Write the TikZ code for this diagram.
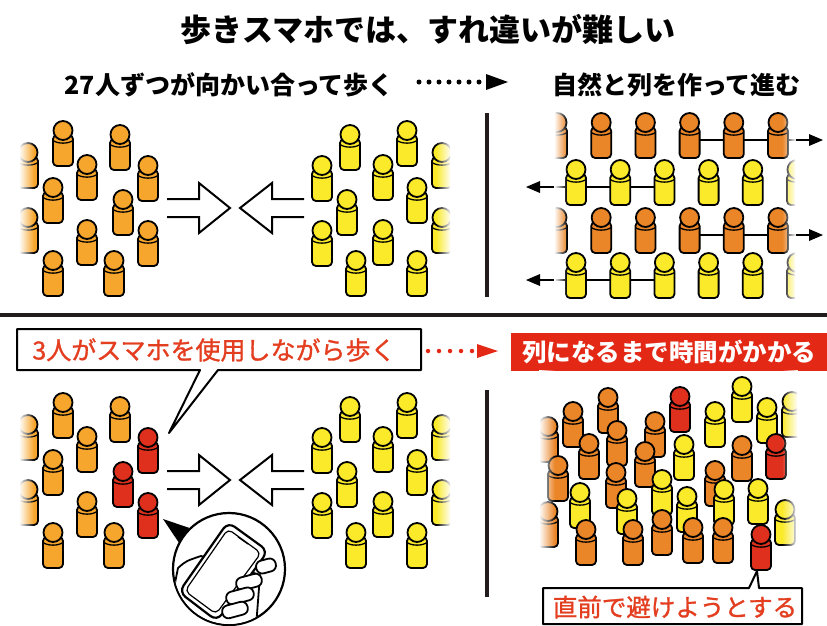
\documentclass[tikz,border=0pt]{standalone}
\usepackage{fontspec}
\newfontfamily\jpfont{Noto Sans CJK JP}
\newfontfamily\jpmed{Noto Sans CJK JP}[FakeBold=1.2]
\usetikzlibrary{arrows.meta, calc, fadings}

\definecolor{pawnorL}{RGB}{246,166,44}
\definecolor{pawnor}{RGB}{234,133,40}
\definecolor{pawnye}{RGB}{250,234,42}
\definecolor{pawnrd}{RGB}{222,48,28}
\definecolor{alertred}{RGB}{228,40,22}
\definecolor{notered}{RGB}{228,62,32}
\definecolor{rulecol}{RGB}{35,28,28}

\begin{document}
\begin{tikzpicture}[
    x=1pt, y=-1pt,
    line join=round,
    pics/pawn/.style={code={
      \draw[line width=1.8pt, fill=#1, rounded corners=4pt] (-10,14) rectangle (10,45);
      \draw[line width=1.3pt] (-10,19.5) .. controls (-5,23) and (5,23) .. (10,19.5);
      \draw[line width=1.8pt, fill=#1] (0,9.5) circle (9.5);
    }},
    title/.style={font=\jpfont\bfseries\fontsize{31}{31}\selectfont, inner sep=0pt},
    head/.style={font=\jpfont\bfseries\fontsize{25}{25}\selectfont, inner sep=0pt},
    note/.style={font=\jpmed\fontsize{#1}{#1}\selectfont, text=notered, inner sep=0pt},
    hollow/.style={line width=2pt, line join=miter, fill=white},
    rowarrow/.style={line width=1.8pt, -{Triangle[length=14pt, width=12pt, line width=0pt]}},
    dotline/.style={line width=5pt, line cap=round, dash pattern=on 0pt off 10pt},
    divider/.style={line width=4.5pt, draw=rulecol},
    tagbox/.style={line width=2pt, draw=black, fill=white}
  ]
  \useasboundingbox (0,0) rectangle (827,625);

  \node[title] (title) at (428,30) {歩きスマホでは、すれ違いが難しい};
  \node[head, anchor=east] (meet) at (394,85) {27人ずつが向かい合って歩く};
  \node[head, anchor=west] (lanes) at (552,85) {自然と列を作って進む};
  \coordinate (go1) at (419,82);
  \coordinate (go1end) at (508,82);
  \draw[dotline, -{Triangle[length=22pt, width=16pt, line width=0pt]}] (go1) -- (go1end);

  \draw[divider] (0,315) -- (827,315);
  \draw[divider] (487,113) -- (487,297);
  \draw[divider] (487,390) -- (487,597);

  \foreach \dy in {0,272} {
    \begin{scope}
      \clip (20,105+\dy) rectangle (450,305+\dy);
      \foreach \x/\y/\phone in {63/121/0, 120/125/0, 28/143/0, 87/155/0, 148/156/1,
                                53/178/0, 123/190/1, 28/208/0, 87/220/0, 148/221/1,
                                53/251/0, 114/251/0} {
        \colorlet{walker}{pawnorL}
        \ifnum\dy>0 \ifnum\phone=1 \colorlet{walker}{pawnrd}\fi\fi
        \pic at (\x,\y+\dy) {pawn=walker};
        \pic at (470-\x,\y+\dy) {pawn=pawnye};
      }
    \end{scope}
    \fill[white, path fading=east] (19,105+\dy) rectangle (34,305+\dy);
    \fill[white, path fading=west] (436,105+\dy) rectangle (451,305+\dy);
    \draw[hollow] (167,199+\dy) -- (199,199+\dy) -- (199,183+\dy) -- (230,208+\dy)
      -- (199,233+\dy) -- (199,217+\dy) -- (167,217+\dy);
    \draw[hollow] (304,199+\dy) -- (272,199+\dy) -- (272,183+\dy) -- (240,208+\dy)
      -- (272,233+\dy) -- (272,217+\dy) -- (304,217+\dy);
  }

  \coordinate (laneA) at (690,140);  \coordinate (laneAend) at (823,140);
  \coordinate (laneB) at (664,187);  \coordinate (laneBend) at (526,187);
  \coordinate (laneC) at (690,235);  \coordinate (laneCend) at (823,235);
  \coordinate (laneD) at (664,280);  \coordinate (laneDend) at (526,280);
  \draw[rowarrow] (laneA) -- (laneAend);
  \draw[rowarrow] (laneB) -- (laneBend);
  \draw[rowarrow] (laneC) -- (laneCend);
  \draw[rowarrow] (laneD) -- (laneDend);
  \begin{scope}
    \clip (555,105) rectangle (795,305);
    \foreach \y in {113,208}
      \foreach \i in {0,...,5}
        \pic at (557+44.2*\i,\y) {pawn=pawnor};
    \foreach \y in {160,253}
      \foreach \i in {0,...,5}
        \pic at (576+44.2*\i,\y) {pawn=pawnye};
  \end{scope}
  \fill[white, path fading=east] (554,105) rectangle (567,305);
  \fill[white, path fading=west] (782,105) rectangle (796,305);

  \coordinate (warnTip) at (169,433);
  \draw[tagbox] (17,329) -- (421,329) -- (421,370) -- (218,370) -- (warnTip)
    -- (200,370) -- (17,370) -- cycle;
  \node[note=25] (warn) at (214,350) {3人がスマホを使用しながら歩く};
  \coordinate (go2) at (428,351);
  \coordinate (go2end) at (498,351);
  \draw[dotline, alertred, line width=4.5pt, dash pattern=on 0pt off 11pt,
    -{Triangle[length=21pt, width=14pt, line width=0pt]}] (go2) -- (go2end);
  \node[fill=alertred, text=white, font=\jpfont\bfseries\fontsize{24.5}{24.5}\selectfont,
    minimum width=316pt, minimum height=38pt, inner sep=0pt, anchor=west]
    (slow) at (511,352) {列になるまで時間がかかる};

  \begin{scope}
    \clip (540,370) rectangle (797,580);
    \foreach \x/\y/\c in {742/377/pawnye, 680/387/pawnrd, 608/388/pawnor, 792/392/pawnye,
        767/398/pawnye, 573/402/pawnor, 715/402/pawnye, 655/412/pawnor, 548/417/pawnor,
        617/421/pawnor, 589/434/pawnor, 776/434/pawnrd, 684/435/pawnye, 742/436/pawnor,
        645/442/pawnor, 558/456/pawnor, 715/461/pawnor, 616/463/pawnor, 662/470/pawnye,
        758/479/pawnye, 724/480/pawnye, 580/483/pawnye, 687/487/pawnye, 627/489/pawnye,
        785/500/pawnye, 548/502/pawnor, 662/510/pawnor, 693/518/pawnor, 723/518/pawnor,
        586/520/pawnor, 633/520/pawnor, 761/525/pawnrd}
      \pic at (\x,\y) {pawn=\c};
  \end{scope}
  \fill[white, path fading=east] (539,370) rectangle (555,580);
  \fill[white, path fading=west] (782,370) rectangle (798,580);

  \coordinate (dodgeTip) at (757,571);
  \draw[tagbox] (543,588) -- (749,588) -- (dodgeTip) -- (759,588) -- (802,588)
    -- (802,624) -- (543,624) -- cycle;
  \node[note=24.5] (dodge) at (675,607) {直前で避けようとする};

  \node[circle, draw, line width=2.2pt, fill=white, minimum size=112pt, inner sep=0pt]
    (mag) at (229,569) {};
  \coordinate (phoneUser) at (163,519);
  \fill (phoneUser) -- (mag.152) -- (mag.134) -- cycle;
  \begin{scope}
    \clip (229,569) circle (55);
    \draw[line width=1.8pt, fill=white] (165,640) -- (174,588) -- (178,568)
      .. controls (186,561) .. (201,556) -- (260,575) -- (255,640) -- cycle;
    \draw[line width=2.2pt, fill=white, rounded corners=8pt]
      (228,522) -- (268,551) -- (217,621) -- (179,592) -- cycle;
    \draw[line width=1.2pt, rounded corners=5pt]
      (228,529) -- (261,553) -- (216,614) -- (185,591) -- cycle;
    \draw[line width=1.2pt, line cap=round] (238,537) -- (248,544);
    \foreach \fx/\fy/\fl in {266/566/10, 249/582/13, 240/596/14, 235/610/13}
      \draw[line width=1.8pt, fill=white, rounded corners=6pt, rotate around={15:(\fx,\fy)}]
        (\fx-\fl,\fy-6.5) rectangle (\fx+\fl,\fy+6.5);
  \end{scope}
\end{tikzpicture}
\end{document}
